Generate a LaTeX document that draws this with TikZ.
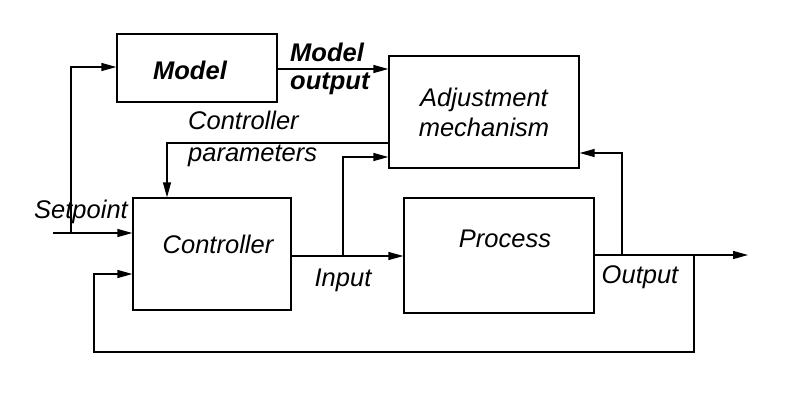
\documentclass[tikz,border=0pt]{standalone}
\usepackage{fontspec}
\setmainfont{Liberation Sans}
\usetikzlibrary{arrows.meta}
\begin{document}
\begin{tikzpicture}[x=1pt,y=-1pt,
  blk/.style={draw,line width=1.3pt,minimum width=#1,inner sep=0pt},
  txt/.style={font=\fontsize{25.5}{30}\selectfont\itshape,inner sep=0pt},
  btxt/.style={font=\fontsize{25.5}{28}\selectfont\bfseries\itshape,inner sep=0pt},
  wire/.style={line width=1.3pt},
  arr/.style={line width=1.3pt,-{Triangle[length=15pt,width=8pt]}}]
\useasboundingbox (0,0) rectangle (810,408);
% blocks
\node[blk=160pt,minimum height=68pt] (model) at (197,68) {};
\node[txt,font=\fontsize{25.5}{30}\selectfont\bfseries\itshape] (modeltxt) at (190,70) {Model};
\node[blk=190pt,minimum height=112pt,txt,draw,align=center,font=\fontsize{25.5}{30}\selectfont\itshape] (adj) at (484,112) {Adjustment\\mechanism};
\node[blk=158pt,minimum height=112pt] (ctrl) at (212,254) {};
\node[txt] (ctrltxt) at (218,244) {Controller};
\node[blk=190pt,minimum height=115pt] (proc) at (499,255.5) {};
\node[txt] (proctxt) at (505,239) {Process};
% coordinates
\coordinate (sp) at (53,233);
\coordinate (spj) at (71,233);
\coordinate (pj) at (343,256);
\coordinate (oj) at (622,255);
\coordinate (ofb) at (694,255);
\coordinate (out) at (748,255);
% connectors
\draw[arr] (sp) -- (ctrl.west |- sp);
\draw[arr] (spj) -- (71,67) -- (model.west |- 0,67);
\draw[arr] (model.east |- 0,69) -- (adj.west |- 0,69);
\draw[arr] (adj.west |- 0,143) -- (167,143) -- (167,0 |- ctrl.north);
\draw[arr] (ctrl.east |- pj) -- (proc.west |- pj);
\draw[arr] (pj) -- (343,157) -- (adj.west |- 0,157);
\draw[arr] (proc.east |- oj) -- (out);
\draw[arr] (oj) -- (622,153) -- (adj.east |- 0,153);
\draw[arr] (ofb) -- (694,352) -- (94,352) -- (94,274) -- (ctrl.west |- 0,274);
% labels
\node[txt] (setpoint) at (81,212) {Setpoint};
\node[btxt,align=left,anchor=west] (mout) at (290,69) {Model\\output};
\node[txt,align=left,anchor=west,font=\fontsize{25.5}{32}\selectfont\itshape] (cpar) at (188,139) {Controller\\parameters};
\node[txt] (input) at (343,280) {Input};
\node[txt] (output) at (640,277) {Output};
\end{tikzpicture}
\end{document}
